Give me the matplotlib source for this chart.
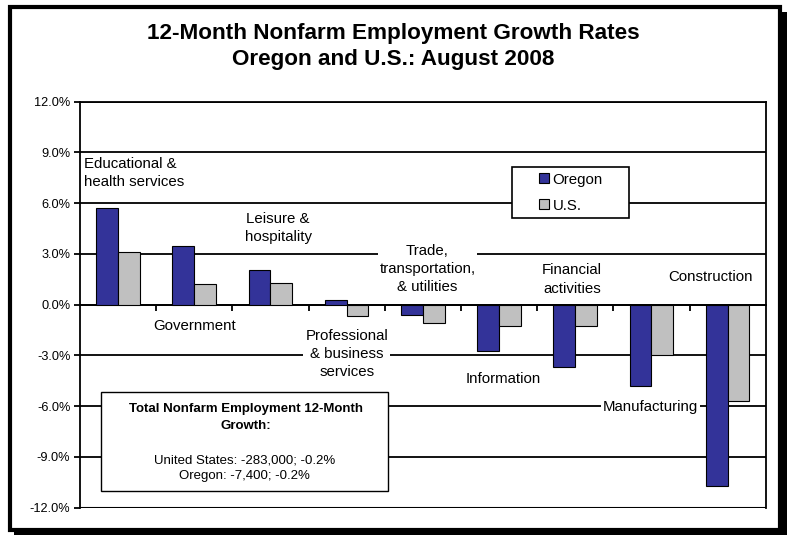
import matplotlib
matplotlib.use("Agg")
import matplotlib.pyplot as plt
from matplotlib.patches import Rectangle
import numpy as np

plt.rcParams['font.family'] = ['Liberation Sans', 'DejaVu Sans']

# ---------------- data ----------------
categories = ["Educational &\nhealth services", "Government", "Leisure &\nhospitality",
              "Professional\n& business\nservices", "Trade,\ntransportation,\n& utilities",
              "Information", "Financial\nactivities", "Manufacturing", "Construction"]
oregon = [5.70, 3.47, 2.03, 0.26, -0.61, -2.72, -3.66, -4.81, -10.72]
us = [3.12, 1.21, 1.30, -0.67, -1.10, -1.28, -1.28, -2.96, -5.69]
series_names = ["Oregon", "U.S."]
series_colors = ["#333399", "#C0C0C0"]
yticks = [-12, -9, -6, -3, 0, 3, 6, 9, 12]
ytick_labels = ["-12.0%", "-9.0%", "-6.0%", "-3.0%", "0.0%", "3.0%", "6.0%", "9.0%", "12.0%"]
title = "12-Month Nonfarm Employment Growth Rates\nOregon and U.S.: August 2008"
summary_title = "Total Nonfarm Employment 12-Month\nGrowth:"
summary_body = "United States: -283,000; -0.2%\nOregon: -7,400; -0.2%"

# label placement (data coords)
label_x = [-0.45, 1.0, 2.1, 3.0, 4.06, 5.06, 5.96, 6.99, 7.78]
label_y = [7.8, -1.26, 4.55, -2.91, 2.10, -4.41, 1.49, -6.03, 1.655]
label_ha = ["left", "center", "center", "center", "center", "center", "center", "center", "center"]

W, H = 789, 535
fig = plt.figure(figsize=(W / 100, H / 100), dpi=100)
fig.patch.set_facecolor("white")

def fx(px):
    return px / W

def fy(py):
    return 1 - py / H

# Axes placement
ax = fig.add_axes([fx(80), fy(507.7), fx(765.7) - fx(80), fy(101.7) - fy(507.7)])

n = len(categories)
x = np.arange(n)
bw = 0.286
ax.bar(x - bw / 2, oregon, bw, color=series_colors[0], edgecolor="black", linewidth=0.8,
       label=series_names[0], zorder=3)
ax.bar(x + bw / 2, us, bw, color=series_colors[1], edgecolor="black", linewidth=0.8,
       label=series_names[1], zorder=3)

ax.set_xlim(-0.5, n - 0.5)
ax.set_ylim(-12, 12)
ax.set_yticks(yticks)
ax.set_yticklabels(ytick_labels, fontsize=9.2)
ax.yaxis.grid(True, color="black", linewidth=1.3)
ax.set_axisbelow(True)
ax.tick_params(axis="y", direction="out", length=4, width=1.3, pad=3)

# x axis line at 0 with tick marks between categories
ax.spines["bottom"].set_position(("data", 0))
ax.spines["bottom"].set_linewidth(1.3)
ax.set_xticks(np.arange(0.5, n - 0.5, 1.0))
ax.set_xticklabels([])
ax.tick_params(axis="x", direction="out", length=4, width=1.3)
for s in ["left", "right", "top"]:
    ax.spines[s].set_linewidth(1.3)
ax.axhline(-12, color="black", linewidth=1.5, zorder=1)

# category labels
for cx, cy, txt, ha in zip(label_x, label_y, categories, label_ha):
    ax.text(cx, cy, txt, ha=ha, va="center", fontsize=10.8, linespacing=1.37,
            multialignment="left" if ha == "left" else "center", zorder=2,
            bbox=dict(boxstyle="square,pad=0.12", fc="white", ec="none"))

# legend box
ax.add_patch(Rectangle((0.6305, 0.714), 0.1706, 0.1241, transform=ax.transAxes,
                       fc="white", ec="black", lw=1.2, zorder=4))
leg = ax.legend(loc="upper left", bbox_to_anchor=(0.6694, 0.8256), frameon=False,
                fontsize=10.8, borderpad=0, borderaxespad=0, handlelength=0.65,
                handleheight=0.62, handletextpad=0.25, labelspacing=0.8)
leg.set_zorder(5)

# summary box
ax.add_patch(Rectangle((0.0306, 0.0411), 0.4181, 0.2431, transform=ax.transAxes,
                       fc="white", ec="black", lw=1.0, zorder=4))
ax.text(0.242, 0.2222, summary_title, transform=ax.transAxes, ha="center", va="center",
        fontsize=9.5, fontweight="bold", linespacing=1.6, zorder=5)
ax.text(0.240, 0.0978, summary_body, transform=ax.transAxes, ha="center", va="center",
        fontsize=9.5, linespacing=1.4, zorder=5)

# title
fig.text(0.498, fy(46.5), title, ha="center", va="center", fontsize=16.2,
         fontweight="bold", linespacing=1.3)

# figure border with shadow
fig.patches.append(Rectangle((fx(9.5), fy(529.5)), fx(780) - fx(9.5), fy(7) - fy(529.5),
                             transform=fig.transFigure, fill=False, ec="black", lw=3.0))
fig.patches.append(Rectangle((fx(780), fy(535)), fx(787) - fx(780), fy(12) - fy(535),
                             transform=fig.transFigure, fc="black", ec="none"))
fig.patches.append(Rectangle((fx(14), fy(535)), fx(787) - fx(14), fy(529) - fy(535),
                             transform=fig.transFigure, fc="black", ec="none"))

fig.savefig("out.png", dpi=100)
